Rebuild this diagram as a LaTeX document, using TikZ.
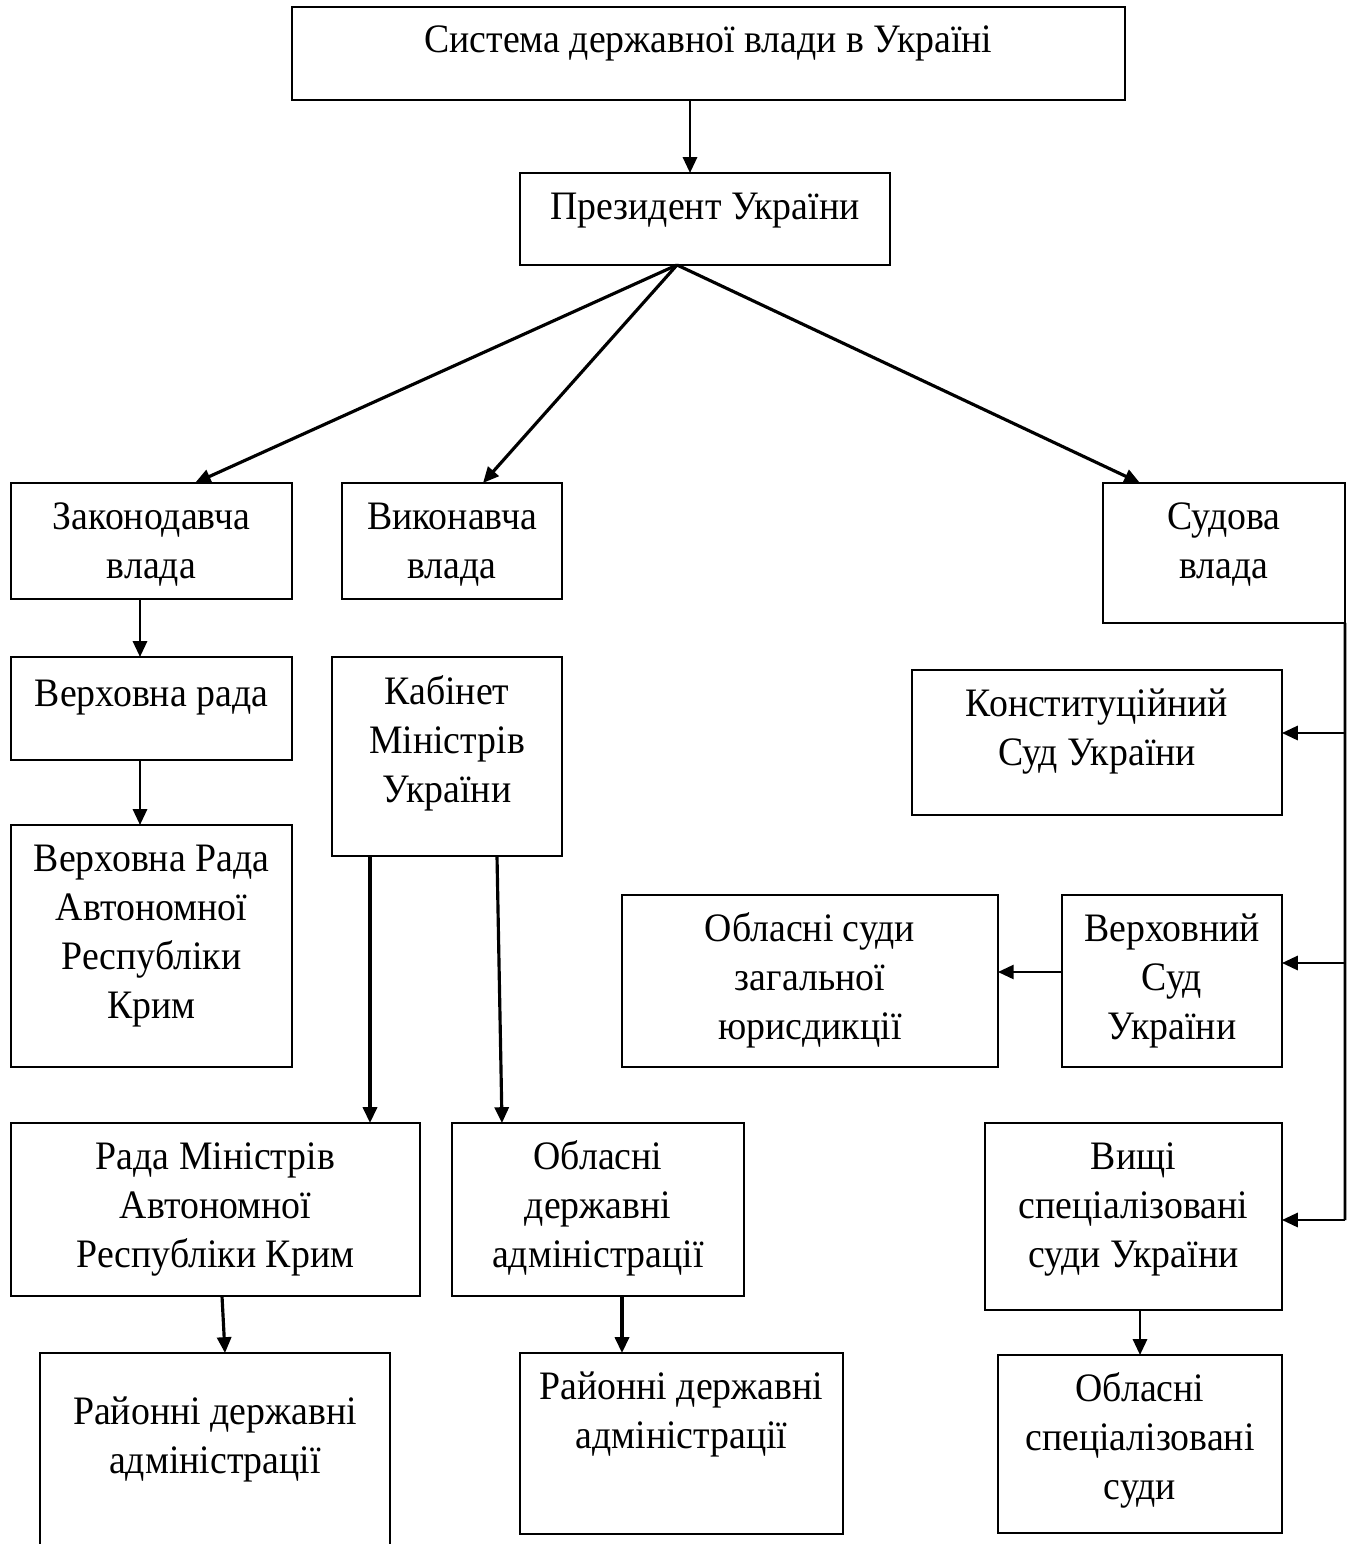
\documentclass[tikz,border=0pt]{standalone}
\usepackage{fontspec}
\setmainfont{Liberation Serif}[FakeStretch=0.935]
\usetikzlibrary{arrows.meta,calc}
\newcommand\mkbox[5]{\node[box, minimum width={(#4-#2)*0.2mm}, minimum height={(#5-#3)*0.2mm}] (#1) at (#2,#3) {};}
% #1 name, #2 box, #3 first baseline offset (px), #4 number of lines, #5 text
\newcommand\mktxt[5]{\node[txt] (#1) at ($(#2.north)+(0,{#3+49*(#4-1)})$) {#5};}
\begin{document}
\begin{tikzpicture}[x=0.02cm,y=-0.02cm,
  box/.style={draw, line width=1.1pt, anchor=north west, inner sep=0pt, outer sep=0pt},
  txt/.style={anchor=base, align=center, inner sep=0pt, font=\fontsize{23}{27.8}\selectfont},
  conn/.style={line width=1.5pt},
  arr/.style={line width=1.5pt, -{Triangle[length=9pt,width=8pt]}},
  darr/.style={line width=1.8pt, -{Triangle[length=9pt,width=8pt]}}]
\useasboundingbox (0,0) rectangle (1353,1544);
\fill[white] (0,0) rectangle (1353,1544);
% boxes
\mkbox{b1}{292}{7}{1125}{100}
\mkbox{b2}{520}{173}{890}{265}
\mkbox{b3}{11}{483}{292}{599}
\mkbox{b4}{342}{483}{562}{599}
\mkbox{b5}{1103}{483}{1345}{623}
\mkbox{b6}{11}{657}{292}{760}
\mkbox{b7}{332}{657}{562}{856}
\mkbox{b8}{11}{825}{292}{1067}
\mkbox{b9}{912}{670}{1282}{815}
\mkbox{b10}{622}{895}{998}{1067}
\mkbox{b11}{1062}{895}{1282}{1067}
\mkbox{b12}{11}{1123}{420}{1296}
\mkbox{b13}{452}{1123}{744}{1296}
\mkbox{b14}{985}{1123}{1282}{1310}
\mkbox{b15}{40}{1353}{390}{1580}
\mkbox{b16}{520}{1353}{843}{1534}
\mkbox{b17}{998}{1355}{1282}{1533}
% texts
\mktxt{t1}{b1}{46}{1}{Система державної влади в Україні}
\mktxt{t2}{b2}{46}{1}{Президент України}
\mktxt{t3}{b3}{46}{2}{Законодавча\\влада}
\mktxt{t4}{b4}{46}{2}{Виконавча\\влада}
\mktxt{t5}{b5}{46}{2}{Судова\\влада}
\mktxt{t6}{b6}{49}{1}{Верховна рада}
\mktxt{t7}{b7}{47}{3}{Кабінет\\Міністрів\\України}
\mktxt{t8}{b8}{46}{4}{Верховна Рада\\Автономної\\Республіки\\Крим}
\mktxt{t9}{b9}{46}{2}{Конституційний\\Суд України}
\mktxt{t10}{b10}{46}{3}{Обласні суди\\загальної\\юрисдикції}
\mktxt{t11}{b11}{46}{3}{Верховний\\Суд\\України}
\mktxt{t12}{b12}{46}{3}{Рада Міністрів\\Автономної\\Республіки Крим}
\mktxt{t13}{b13}{46}{3}{Обласні\\державні\\адміністрації}
\mktxt{t14}{b14}{46}{3}{Вищі\\спеціалізовані\\суди України}
\mktxt{t15}{b15}{71}{2}{Районні державні\\адміністрації}
\mktxt{t16}{b16}{46}{2}{Районні державні\\адміністрації}
\mktxt{t17}{b17}{46}{3}{Обласні\\спеціалізовані\\суди}
% connectors
\draw[arr] (b1.south -| 690,0) -- (b2.north -| 690,0);
\draw[darr] (b2.south -| 677,0) -- (b3.north -| 195,0);
\draw[darr] (b2.south -| 677,0) -- (b4.north -| 483,0);
\draw[darr] (b2.south -| 677,0) -- (b5.north -| 1140,0);
\draw[arr] (b3.south -| 140,0) -- (b6.north -| 140,0);
\draw[arr] (b6.south -| 140,0) -- (b8.north -| 140,0);
\draw[darr] (b7.south -| 370,0) -- (b12.north -| 370,0);
\draw[darr] (b7.south -| 497,0) -- (b13.north -| 502,0);
\draw[darr] (b12.south -| 222,0) -- (b15.north -| 225,0);
\draw[darr] (b13.south -| 622,0) -- (b16.north -| 622,0);
\coordinate (k0) at (1345,1220);
\draw[conn] (b5.south east) -- (k0);
\coordinate (k1) at (1345,733);
\coordinate (k2) at (1345,963);
\draw[arr] (k1) -- (k1 -| b9.east);
\draw[arr] (k2) -- (k2 -| b11.east);
\draw[arr] (k0) -- (k0 -| b14.east);
\draw[arr] (b11.west |- 0,972) -- (b10.east |- 0,972);
\draw[arr] (b14.south -| 1140,0) -- (b17.north -| 1140,0);
\end{tikzpicture}
\end{document}
